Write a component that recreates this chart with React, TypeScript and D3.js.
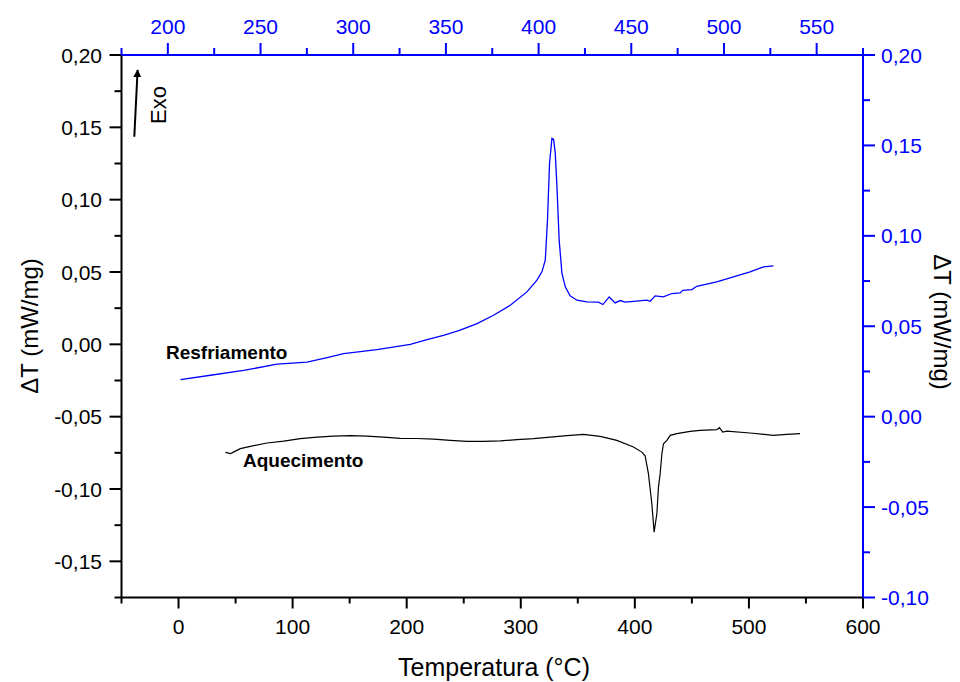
import React from "react";
import * as d3 from "d3";

// Heating curve (Aquecimento) – bottom / left axes
const heatingT = [41.1, 45.5, 48.1, 54.2, 63.0, 77.6, 92.2, 106.8, 121.4, 136.0, 150.6, 165.2, 179.8, 194.4, 209.0, 223.6, 238.2, 252.8, 267.4, 282.0, 296.6, 311.2, 325.8, 340.4, 355.0, 369.6, 384.2, 398.8, 406.1, 409.0, 411.9, 414.9, 416.9, 419.3, 420.7, 422.2, 423.7, 425.1, 428.1, 431.0, 436.8, 448.5, 457.2, 471.9, 474.1, 477.1, 480.6, 501.0, 521.4, 533.2, 544.8];
const heatingV = [-0.0747, -0.0756, -0.0745, -0.0721, -0.0705, -0.0682, -0.0669, -0.0652, -0.0641, -0.0634, -0.0631, -0.0634, -0.0641, -0.0650, -0.0651, -0.0655, -0.0664, -0.0671, -0.0671, -0.0667, -0.0659, -0.0652, -0.0641, -0.0631, -0.0622, -0.0636, -0.0664, -0.0710, -0.0745, -0.0771, -0.0894, -0.1102, -0.1298, -0.1171, -0.0987, -0.0894, -0.0756, -0.0687, -0.0664, -0.0629, -0.0617, -0.0602, -0.0595, -0.0590, -0.0576, -0.0606, -0.0600, -0.0613, -0.0629, -0.0622, -0.0617];

// Cooling curve (Resfriamento) – top / right axes
const coolingT = [206.8, 223.0, 240.9, 258.9, 275.1, 285.9, 294.8, 312.8, 330.8, 339.8, 348.7, 357.7, 366.8, 375.7, 384.7, 393.7, 399.1, 401.8, 403.6, 404.8, 405.9, 407.2, 408.1, 409.0, 409.9, 411.1, 412.6, 414.4, 417.0, 420.7, 426.1, 432.3, 434.7, 438.1, 441.3, 444.0, 446.7, 451.2, 458.4, 460.2, 462.9, 467.3, 471.9, 476.3, 477.8, 482.7, 485.3, 496.1, 505.1, 514.1, 521.3, 526.7];
const coolingV = [0.0205, 0.0229, 0.0256, 0.0290, 0.0302, 0.0327, 0.0349, 0.0371, 0.0400, 0.0426, 0.0450, 0.0478, 0.0515, 0.0561, 0.0616, 0.0690, 0.0755, 0.0801, 0.0865, 0.1087, 0.1401, 0.1539, 0.1533, 0.1456, 0.1271, 0.0976, 0.0792, 0.0718, 0.0668, 0.0644, 0.0635, 0.0633, 0.0620, 0.0662, 0.0629, 0.0642, 0.0633, 0.0638, 0.0644, 0.0638, 0.0668, 0.0662, 0.0681, 0.0684, 0.0699, 0.0703, 0.0721, 0.0745, 0.0773, 0.0801, 0.0828, 0.0834];

const bottomMajor = [0, 100, 200, 300, 400, 500, 600];
const bottomMinor = [-50, 50, 150, 250, 350, 450, 550];
const leftMajor = [-0.15, -0.10, -0.05, 0.0, 0.05, 0.10, 0.15, 0.20];
const leftMinor = [-0.175, -0.125, -0.075, -0.025, 0.025, 0.075, 0.125, 0.175];
const topMajor = [200, 250, 300, 350, 400, 450, 500, 550];
const topMinor = [175, 225, 275, 325, 375, 425, 475, 525, 575];
const rightMajor = [-0.10, -0.05, 0.0, 0.05, 0.10, 0.15, 0.20];
const rightMinor = [-0.075, -0.025, 0.025, 0.075, 0.125, 0.175];

const FONT = "'Liberation Sans', Arial, Helvetica, sans-serif";
const BLUE = "#0000ff";

const locale = d3.formatLocale({ decimal: ",", thousands: ".", grouping: [3], currency: ["", ""], minus: "-" });
const fmt = (v: number) => locale.format(".2f")(Math.abs(v) < 1e-9 ? 0 : v);

export default function App() {
  const xB = d3.scaleLinear().domain([-50, 600]).range([121.5, 863]);
  const yL = d3.scaleLinear().domain([-0.175, 0.2]).range([597.5, 55]);
  const xT = d3.scaleLinear().domain([175, 575]).range([121.5, 863]);
  const yR = d3.scaleLinear().domain([-0.1, 0.2]).range([597.5, 55]);

  const heat = heatingT.map((t, i) => [t, heatingV[i]] as [number, number]);
  const cool = coolingT.map((t, i) => [t, coolingV[i]] as [number, number]);
  const heatLine = d3.line<[number, number]>().x((d) => xB(d[0])).y((d) => yL(d[1]));
  const coolLine = d3.line<[number, number]>().x((d) => xT(d[0])).y((d) => yR(d[1]));

  const x0 = xB.range()[0];
  const x1 = xB.range()[1];
  const yTop = yL.range()[1];
  const yBot = yL.range()[0];

  return (
    <svg width={960} height={682} style={{ position: "absolute", left: 0, top: 0, background: "#fff" }} fontFamily={FONT}>
      <rect x={0} y={0} width={960} height={682} fill="#fff" />
      {/* curves */}
      <path d={heatLine(heat) || ""} fill="none" stroke="#000" strokeWidth={1.2} />
      <path d={coolLine(cool) || ""} fill="none" stroke={BLUE} strokeWidth={1.3} />

      {/* left axis */}
      <line x1={x0} x2={x0} y1={yTop} y2={yBot} stroke="#000" strokeWidth={2} />
      {leftMajor.map((v) => (
        <g key={"lM" + v}>
          <line x1={x0 - 12} x2={x0} y1={yL(v)} y2={yL(v)} stroke="#000" strokeWidth={2} />
          <text x={102} y={yL(v)} dy="0.36em" textAnchor="end" fontSize={21}>{fmt(v)}</text>
        </g>
      ))}
      {leftMinor.map((v) => (
        <line key={"lm" + v} x1={x0 - 7} x2={x0} y1={yL(v)} y2={yL(v)} stroke="#000" strokeWidth={2} />
      ))}

      {/* bottom axis */}
      <line x1={x0} x2={x1} y1={yBot} y2={yBot} stroke="#000" strokeWidth={2} />
      {bottomMajor.map((v) => (
        <g key={"bM" + v}>
          <line x1={xB(v)} x2={xB(v)} y1={yBot} y2={yBot + 11} stroke="#000" strokeWidth={2} />
          <text x={xB(v)} y={634} textAnchor="middle" fontSize={21}>{v}</text>
        </g>
      ))}
      {bottomMinor.map((v) => (
        <line key={"bm" + v} x1={xB(v)} x2={xB(v)} y1={yBot} y2={yBot + 6} stroke="#000" strokeWidth={2} />
      ))}

      {/* top axis */}
      <line x1={x0} x2={x1} y1={yTop} y2={yTop} stroke={BLUE} strokeWidth={2} />
      {topMajor.map((v) => (
        <g key={"tM" + v}>
          <line x1={xT(v)} x2={xT(v)} y1={yTop} y2={yTop - 12} stroke={BLUE} strokeWidth={2} />
          <text x={xT(v)} y={34} textAnchor="middle" fontSize={21} fill={BLUE}>{v}</text>
        </g>
      ))}
      {topMinor.map((v) => (
        <line key={"tm" + v} x1={xT(v)} x2={xT(v)} y1={yTop} y2={yTop - 7} stroke={BLUE} strokeWidth={2} />
      ))}

      {/* right axis */}
      <line x1={x1} x2={x1} y1={yTop} y2={yBot} stroke={BLUE} strokeWidth={2} />
      {rightMajor.map((v) => (
        <g key={"rM" + v}>
          <line x1={x1} x2={x1 + 12} y1={yR(v)} y2={yR(v)} stroke={BLUE} strokeWidth={2} />
          <text x={881} y={yR(v)} dy="0.36em" textAnchor="start" fontSize={21} fill={BLUE}>{fmt(v)}</text>
        </g>
      ))}
      {rightMinor.map((v) => (
        <line key={"rm" + v} x1={x1} x2={x1 + 7} y1={yR(v)} y2={yR(v)} stroke={BLUE} strokeWidth={2} />
      ))}

      {/* axis titles */}
      <text x={494} y={676} textAnchor="middle" fontSize={25}>Temperatura (°C)</text>
      <text transform="translate(38,326) rotate(-90)" textAnchor="middle" fontSize={24}>ΔT (mW/mg)</text>
      <text transform="translate(934,322) rotate(90)" textAnchor="middle" fontSize={24}>ΔT (mW/mg)</text>

      {/* Exo arrow */}
      <defs>
        <marker id="arrowhead" viewBox="0 0 10 10" refX="9" refY="5" markerWidth="4" markerHeight="4" orient="auto">
          <path d="M0,0 L10,5 L0,10 z" fill="#000" />
        </marker>
      </defs>
      <line x1={134.3} y1={136.7} x2={137.6} y2={70} stroke="#000" strokeWidth={2} markerEnd="url(#arrowhead)" />
      <text transform="translate(166,105) rotate(-90)" textAnchor="middle" fontSize={22}>Exo</text>

      {/* curve labels */}
      <text x={166} y={359} fontSize={19} fontWeight="bold">Resfriamento</text>
      <text x={243} y={467} fontSize={19} fontWeight="bold">Aquecimento</text>
    </svg>
  );
}
